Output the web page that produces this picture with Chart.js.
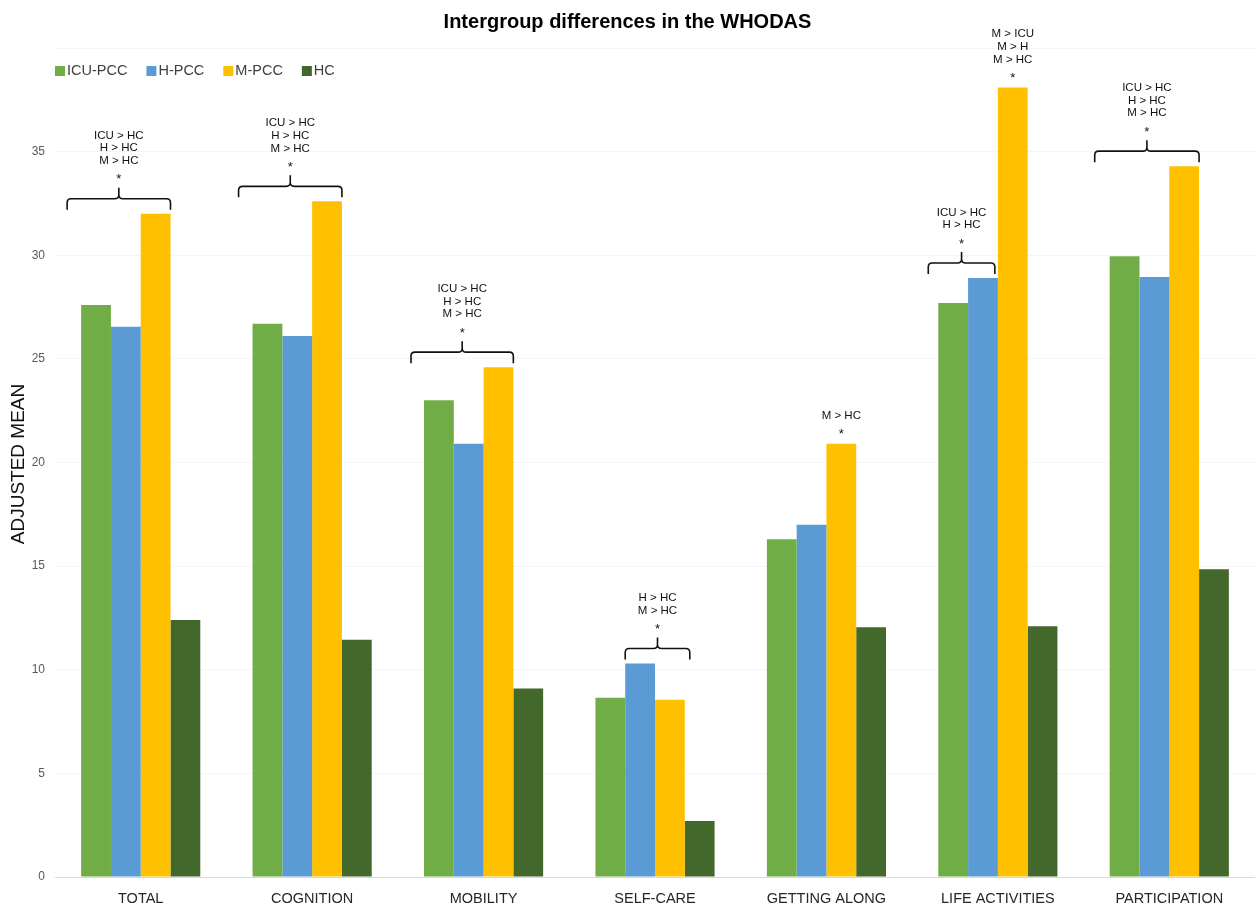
<!DOCTYPE html>
<html><head><meta charset="utf-8">
<script src="https://cdn.jsdelivr.net/npm/chart.js@4.4.1/dist/chart.umd.min.js"></script>
<style>html,body{margin:0;padding:0;background:#fff;}#wrap{width:1255px;height:903px;}</style>
</head><body><div id="wrap"><canvas id="c"></canvas></div>
<script>
const categories = ["TOTAL","COGNITION","MOBILITY","SELF-CARE","GETTING ALONG","LIFE ACTIVITIES","PARTICIPATION"];
const icuPcc = [27.6, 26.7, 23.0, 8.65, 16.3, 27.7, 29.95];
const hPcc   = [26.55, 26.1, 20.9, 10.3, 17.0, 28.9, 28.95];
const mPcc   = [32.0, 32.6, 24.6, 8.55, 20.9, 38.1, 34.3];
const hc     = [12.4, 11.45, 9.1, 2.7, 12.05, 12.1, 14.85];
const seriesNames = ["ICU-PCC","H-PCC","M-PCC","HC"];
const yTicks = [0,5,10,15,20,25,30,35];
const yTitle = "ADJUSTED MEAN";

// significance annotations: category index, lines, bar span (series indices)
const annotations = [
  {cat:0, lines:["ICU > HC","H > HC","M > HC"], from:0, to:2, brace:true, padL:14, padR:0},
  {cat:1, lines:["ICU > HC","H > HC","M > HC"], from:0, to:2, brace:true, padL:14, padR:0},
  {cat:2, lines:["ICU > HC","H > HC","M > HC"], from:0, to:2, brace:true, padL:13, padR:0},
  {cat:3, lines:["H > HC","M > HC"], from:1, to:2, brace:true, padL:0, padR:5},
  {cat:4, lines:["M > HC"], from:2, to:2, brace:false},
  {cat:5, lines:["ICU > HC","H > HC"], from:0, to:1, brace:true, padL:10, padR:-3},
  {cat:5, lines:["M > ICU","M > H","M > HC"], from:2, to:2, brace:false},
  {cat:6, lines:["ICU > HC","H > HC","M > HC"], from:0, to:2, brace:true, padL:15, padR:0}
];

const colors = ["#70AD47","#5B9BD5","#FFC000","#43682B"];
const FONT = "'Liberation Sans', Arial, sans-serif";

const annotPlugin = {
  id:'annot',
  afterDatasetsDraw(chart){
    const ctx = chart.ctx;
    ctx.save();
    ctx.fillStyle = '#111';
    ctx.strokeStyle = '#111';
    ctx.lineWidth = 1.6;
    ctx.textAlign = 'center';
    ctx.textBaseline = 'middle';
    annotations.forEach(a=>{
      const bars = [];
      for(let d=a.from; d<=a.to; d++) bars.push(chart.getDatasetMeta(d).data[a.cat]);
      const w = bars[0].width;
      const top = Math.min(...bars.map(b=>b.y));
      let starY, cx;
      if(a.brace){
        const left = bars[0].x - w/2 - a.padL;
        const right = bars[bars.length-1].x + w/2 + a.padR;
        cx = (left+right)/2;
        const B = top - 4;
        const H = B - 11;
        const T = B - 22;
        const r = 4;
        ctx.beginPath();
        ctx.moveTo(left, B);
        ctx.lineTo(left, H + r);
        ctx.quadraticCurveTo(left, H, left + r, H);
        ctx.lineTo(cx - r, H);
        ctx.quadraticCurveTo(cx, H, cx, H - r);
        ctx.lineTo(cx, T);
        ctx.moveTo(cx, H - r);
        ctx.quadraticCurveTo(cx, H, cx + r, H);
        ctx.lineTo(right - r, H);
        ctx.quadraticCurveTo(right, H, right, H + r);
        ctx.lineTo(right, B);
        ctx.stroke();
        starY = B - 33;
      } else {
        cx = bars[0].x;
        starY = top - 12;
      }
      ctx.font = "13px " + FONT;
      ctx.fillText("*", cx, starY + 3);
      ctx.font = "11.5px " + FONT;
      const n = a.lines.length;
      a.lines.forEach((t,k)=>{
        ctx.fillText(t, cx, starY - 16 - (n-1-k)*12.6);
      });
    });
    // legend
    ctx.textAlign = 'left';
    ctx.font = "14.5px " + FONT;
    let x = 55;
    const ly = 71;
    seriesNames.forEach((s,i)=>{
      ctx.fillStyle = colors[i];
      ctx.fillRect(x, ly-5, 10, 10);
      ctx.fillStyle = '#404040';
      ctx.fillText(s, x+12, ly);
      x += 12 + ctx.measureText(s).width + 19;
    });
    // y axis title
    ctx.save();
    ctx.translate(19, 464);
    ctx.rotate(-Math.PI/2);
    ctx.textAlign = 'center';
    ctx.fillStyle = '#111';
    ctx.font = "19px " + FONT;
    ctx.fillText(yTitle, 0, 0);
    ctx.restore();
    ctx.restore();
  }
};

new Chart(document.getElementById('c'), {
  type:'bar',
  data:{
    labels: categories,
    datasets: [icuPcc,hPcc,mPcc,hc].map((d,i)=>({
      label: seriesNames[i], data: d, backgroundColor: colors[i],
      barPercentage: 1.0, categoryPercentage: 0.695, borderWidth:0
    }))
  },
  options:{
    responsive:true, maintainAspectRatio:false, animation:false,
    layout:{padding:{left:0,right:0,top:0,bottom:0}},
    plugins:{
      legend:{display:false},
      tooltip:{enabled:false},
      title:{display:true, text:'Intergroup differences in the WHODAS',
        color:'#000', font:{family:FONT, size:20, weight:'bold'}, padding:{top:10,bottom:14}}
    },
    scales:{
      x:{
        grid:{display:false},
        border:{display:true, color:'#d9d9d9', width:1},
        ticks:{color:'#262626', font:{family:FONT, size:14.5}, padding:5, maxRotation:0, autoSkip:false},
        afterFit(s){ s.height = 26; }
      },
      y:{
        min:0, max:40,
        afterBuildTicks(s){ s.ticks = yTicks.concat([40]).map(v=>({value:v})); },
        grid:{color:'#f5f5f5', drawTicks:false},
        border:{display:false},
        ticks:{color:'#595959', font:{family:FONT, size:12}, padding:10,
          callback:(v)=> yTicks.includes(v) ? String(v) : ''},
        afterFit(s){ s.width = 55; }
      }
    }
  },
  plugins:[annotPlugin]
});
</script></body></html>
